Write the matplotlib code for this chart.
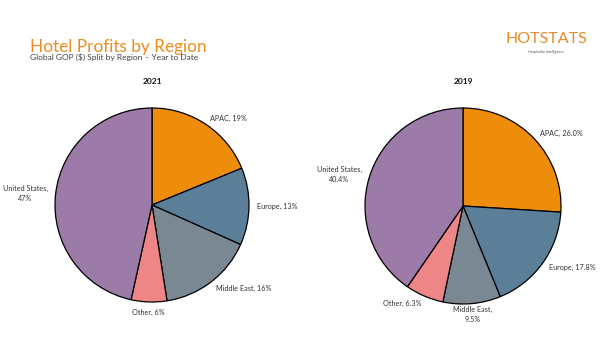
import numpy as np
import matplotlib.pyplot as plt

plt.rcParams['font.family'] = ['Lato', 'DejaVu Sans']

# data
regions = ["APAC", "Europe", "Middle East", "Other", "United States"]
share_2021 = [19, 13, 16, 6, 47]
share_2019 = [26.0, 17.8, 9.5, 6.3, 40.4]
labels_2021 = ["APAC, 19%", "Europe, 13%", "Middle East, 16%", "Other, 6%", "United States,\n47%"]
labels_2019 = ["APAC, 26.0%", "Europe, 17.8%", "Middle East,\n9.5%", "Other, 6.3%", "United States,\n40.4%"]
colors = ["#EE8C0C", "#5B7F98", "#7A8894", "#EE8587", "#9C7BA8"]

W, H = 606, 357
fig = plt.figure(figsize=(W / 100, H / 100), dpi=100)
fig.patch.set_facecolor("white")


def draw_pie(cx, cy, r, values, labels, year):
    # cx, cy, r in pixels (y from top)
    ax = fig.add_axes([(cx - r) / W, 1 - (cy + r) / H, 2 * r / W, 2 * r / H])
    wedges, texts = ax.pie(values, labels=labels, colors=colors, startangle=90,
                           counterclock=False, labeldistance=1.08,
                           wedgeprops=dict(edgecolor="black", linewidth=0.9),
                           textprops=dict(fontsize=5.2, color="#333333",
                                          linespacing=1.45))
    for t in texts:
        x, y = t.get_position()
        t.set_multialignment("center")
        if abs(x) < 0.25:
            # labels under the pie: centred below the slice
            t.set_ha("center")
            t.set_va("center")
            t.set_position((x, y - 0.03))
    ax.set_xlim(-1, 1)
    ax.set_ylim(-1, 1)
    ax.axis("off")
    fig.text(cx / W, 1 - 82 / H, year, ha="center", va="center",
             fontsize=6, fontweight="bold", color="#111111")


draw_pie(152, 205, 97, share_2021, labels_2021, "2021")
draw_pie(463, 206, 98, share_2019, labels_2019, "2019")

# titles
fig.text(30 / W, 1 - 47 / H, "Hotel Profits by Region", ha="left", va="center",
         fontsize=12.4, color="#EE8C1E")
fig.text(30 / W, 1 - 57.5 / H, "Global GOP ($) Split by Region \u2013 Year to Date",
         ha="left", va="center", fontsize=6, color="#404040")

# logo
fig.text(546 / W, 1 - 39 / H, "HOTSTATS", ha="center", va="center",
         fontsize=11.5, color="#E88A2A")
fig.text(546 / W, 1 - 52 / H, "Hospitality Intelligence", ha="center", va="center",
         fontsize=2.5, color="#555555")

fig.savefig("out.png", dpi=100, facecolor="white")
